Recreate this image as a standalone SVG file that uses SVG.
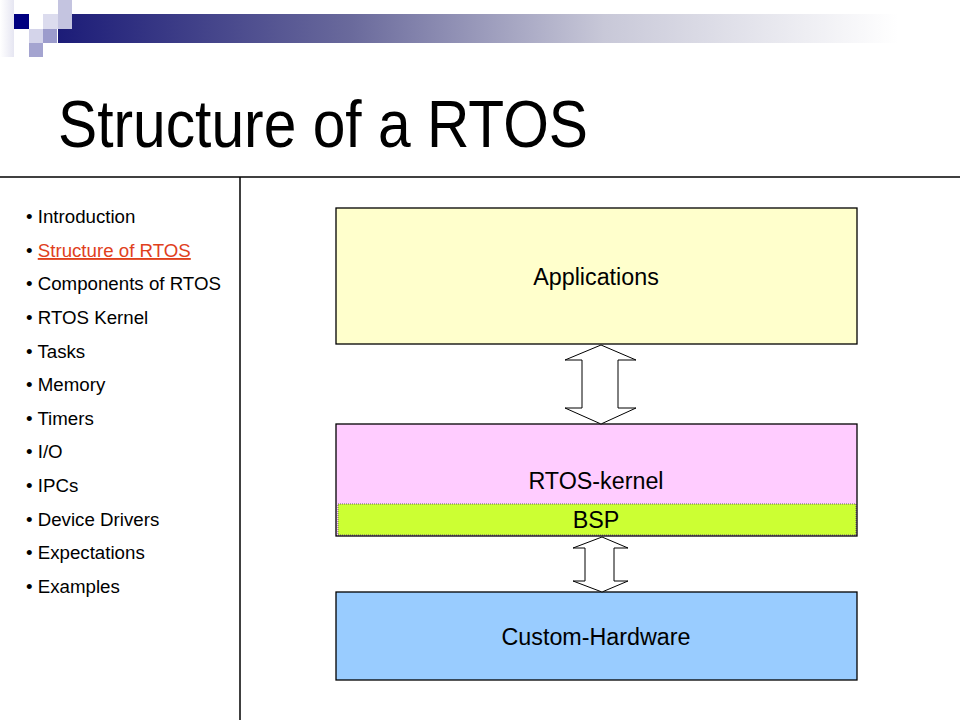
<svg xmlns="http://www.w3.org/2000/svg" width="960" height="720" viewBox="0 0 960 720">
<defs>
<linearGradient id="bar" x1="0" y1="0" x2="1" y2="0">
<stop offset="0" stop-color="#1c1c78"/>
<stop offset="0.35" stop-color="#6a6a9c"/>
<stop offset="0.65" stop-color="#c8c8d8"/>
<stop offset="1" stop-color="#ffffff"/>
</linearGradient>
<linearGradient id="lft" x1="0" y1="0" x2="1" y2="0">
<stop offset="0" stop-color="#ffffff"/>
<stop offset="1" stop-color="#e6e6f2"/>
</linearGradient>
<style>
.nav{font-family:"Liberation Sans",Arial,sans-serif;font-size:18.7px;fill:#000}
.lbl{font-family:"Liberation Sans",Arial,sans-serif;font-size:23.3px;fill:#000;text-anchor:middle}
.box{stroke:#000;stroke-width:1.3}
.arr{fill:#fff;stroke:#000;stroke-width:1}
</style>
</defs>
<rect width="960" height="720" fill="#fff"/>
<g id="header">
<rect x="0" y="0" width="14" height="57" fill="url(#lft)"/>
<rect x="58" y="14" width="840" height="29" fill="url(#bar)"/>
<rect x="58" y="0" width="14" height="29" fill="#c4c4e0"/>
<rect x="43" y="14" width="15" height="15" fill="#dcdcee"/>
<rect x="14" y="14" width="15" height="15" fill="#000080"/>
<rect x="29" y="29" width="14" height="14" fill="#d4d4ea"/>
<rect x="43" y="29" width="14" height="14" fill="#9c9ccc"/>
<rect x="29" y="43" width="14" height="14" fill="#a4a4d0"/>
</g>
<g id="title">
<text x="58" y="147" font-family="Liberation Sans,Arial,sans-serif" font-size="66" textLength="530" lengthAdjust="spacingAndGlyphs">Structure of a RTOS</text>
</g>
<g id="frame" stroke="#000" stroke-width="1.5">
<line x1="0" y1="177" x2="960" y2="177"/>
<line x1="240" y1="177" x2="240" y2="720"/>
</g>
<g id="nav">
<text class="nav" x="26" y="223">• Introduction</text>
<text class="nav" x="26" y="257">• <tspan fill="#e0401c" text-decoration="underline">Structure of RTOS</tspan></text>
<text class="nav" x="26" y="290">• Components of RTOS</text>
<text class="nav" x="26" y="324">• RTOS Kernel</text>
<text class="nav" x="26" y="358">• Tasks</text>
<text class="nav" x="26" y="391">• Memory</text>
<text class="nav" x="26" y="425">• Timers</text>
<text class="nav" x="26" y="458">• I/O</text>
<text class="nav" x="26" y="492">• IPCs</text>
<text class="nav" x="26" y="526">• Device Drivers</text>
<text class="nav" x="26" y="559">• Expectations</text>
<text class="nav" x="26" y="593">• Examples</text>
</g>
<g id="applications">
<rect class="box" x="336" y="208" width="521" height="136" fill="#ffffcc"/>
<text class="lbl" x="596" y="285">Applications</text>
</g>
<g id="rtos-kernel">
<rect x="336" y="424" width="521" height="112" fill="#ffccff"/>
<text class="lbl" x="596" y="489">RTOS-kernel</text>
</g>
<g id="bsp">
<rect x="338" y="504" width="518" height="31" fill="#ccff33" stroke="#666" stroke-width="1" stroke-dasharray="1 1"/>
<text class="lbl" x="596" y="528">BSP</text>
</g>
<rect x="336" y="424" width="521" height="112" fill="none" class="box"/>
<g id="custom-hardware">
<rect class="box" x="336" y="592" width="521" height="88" fill="#99ccff"/>
<text class="lbl" x="596" y="645">Custom-Hardware</text>
</g>
<g id="connectors">
<polygon class="arr" points="601,345 636,360 618,360 618,408 636,408 601,424 565,408 582,408 582,360 565,360"/>
<polygon class="arr" points="602,537 628,548 614,548 614,581 628,581 602,592 573,581 585,581 585,548 573,548"/>
</g>
</svg>
